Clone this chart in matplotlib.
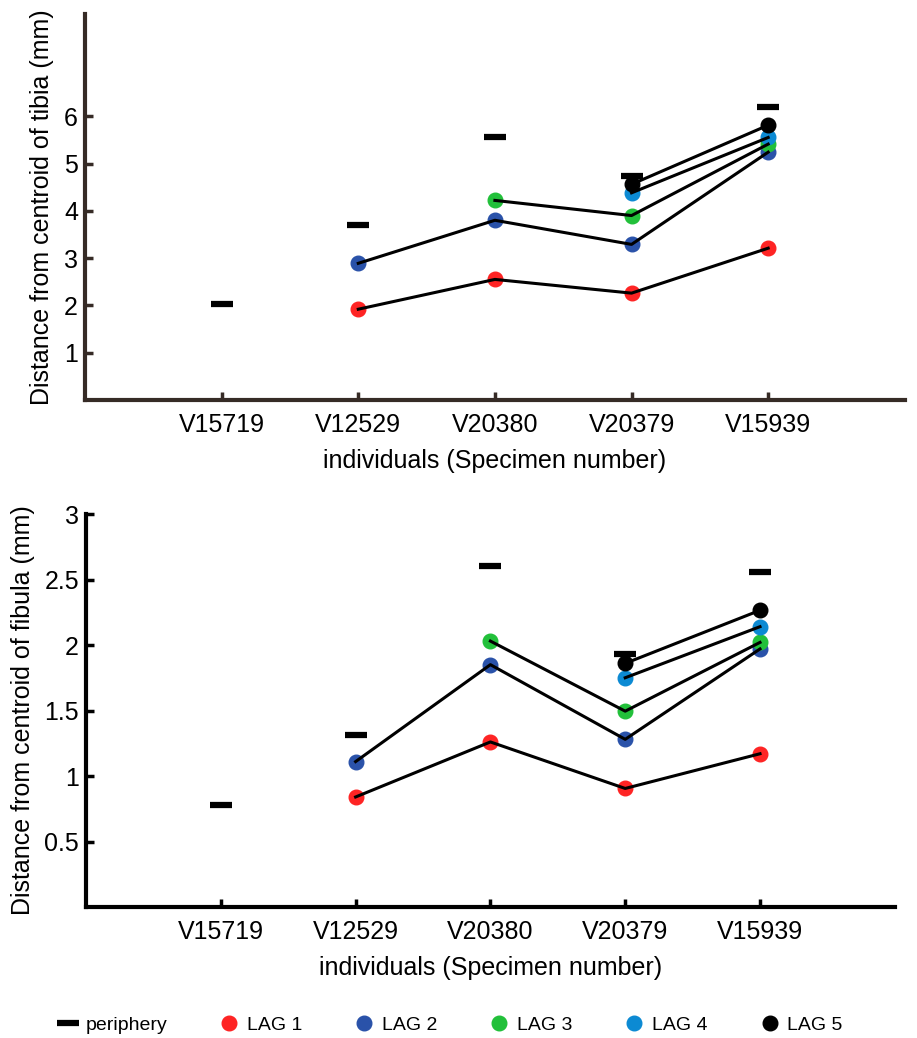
import numpy as np
import matplotlib.pyplot as plt
from matplotlib.lines import Line2D

plt.rcParams['font.family'] = ['Liberation Sans', 'DejaVu Sans']

specimens = ['V15719', 'V12529', 'V20380', 'V20379', 'V15939']
nan = np.nan

# tibia (mm)
tibia_periphery = [2.03, 3.69, 5.55, 4.73, 6.19]
tibia_lag = {
    'LAG 1': [nan, 1.92, 2.55, 2.26, 3.21],
    'LAG 2': [nan, 2.89, 3.80, 3.29, 5.24],
    'LAG 3': [nan, nan, 4.22, 3.90, 5.41],
    'LAG 4': [nan, nan, nan, 4.38, 5.55],
    'LAG 5': [nan, nan, nan, 4.56, 5.81],
}

# fibula (mm)
fibula_periphery = [0.78, 1.31, 2.60, 1.935, 2.56]
fibula_lag = {
    'LAG 1': [nan, 0.84, 1.26, 0.905, 1.17],
    'LAG 2': [nan, 1.11, 1.85, 1.28, 1.97],
    'LAG 3': [nan, nan, 2.03, 1.495, 2.02],
    'LAG 4': [nan, nan, nan, 1.75, 2.14],
    'LAG 5': [nan, nan, nan, 1.86, 2.265],
}

lag_colors = {'LAG 1': '#fe2424', 'LAG 2': '#2a52a9', 'LAG 3': '#22c03a',
              'LAG 4': '#0c8ad3', 'LAG 5': '#000000'}

fig = plt.figure(figsize=(9.17, 10.38), dpi=100)
ax_top = fig.add_axes([0.0927, 0.6146, 0.894, 0.3719])
ax_bot = fig.add_axes([0.0938, 0.1262, 0.882, 0.3786])

font_size = 18
x = np.arange(1, len(specimens) + 1)


def draw_panel(ax, periphery, lags, ylabel, ylim, yticks, yticklabels, spine_color):
    for name, vals in lags.items():
        ax.plot(x, vals, linestyle='none', marker='o', markersize=10.5,
                color=lag_colors[name], zorder=3)
        ax.plot(x, vals, color='black', linewidth=2.2, zorder=4)
    ax.plot(x, periphery, linestyle='none', marker='_', markersize=16,
            markeredgewidth=4.5, color='black', zorder=5)

    ax.set_xlim(0, 6)
    ax.set_ylim(*ylim)
    ax.set_xticks(x)
    ax.set_xticklabels(specimens)
    ax.set_yticks(yticks)
    ax.set_yticklabels(yticklabels)
    ax.tick_params(direction='in', length=6, width=2.5, colors=spine_color,
                   labelcolor='black', labelsize=font_size)
    ax.tick_params(axis='x', pad=9)
    ax.tick_params(axis='y', pad=5)
    for s in ['top', 'right']:
        ax.spines[s].set_visible(False)
    for s in ['left', 'bottom']:
        ax.spines[s].set_linewidth(3)
        ax.spines[s].set_color(spine_color)
    ax.set_ylabel(ylabel, fontsize=font_size, labelpad=7)
    ax.set_xlabel('individuals (Specimen number)', fontsize=font_size, labelpad=9)


draw_panel(ax_top, tibia_periphery, tibia_lag, 'Distance from centroid of tibia (mm)',
           (0, 8.16), [1, 2, 3, 4, 5, 6], ['1', '2', '3', '4', '5', '6'], '#362b26')
draw_panel(ax_bot, fibula_periphery, fibula_lag, 'Distance from centroid of fibula (mm)',
           (0, 3), [0.5, 1, 1.5, 2, 2.5, 3], ['0.5', '1', '1.5', '2', '2.5', '3'], 'black')

handles = [Line2D([], [], linestyle='none', marker='_', markersize=16.5,
                  markeredgewidth=4.5, color='black', label='periphery')]
for name, c in lag_colors.items():
    handles.append(Line2D([], [], linestyle='none', marker='o', markersize=10.5,
                          color=c, label=name))
fig.legend(handles=handles, loc='center', bbox_to_anchor=(0.49, 0.0125), ncol=6,
           frameon=False, fontsize=14, handletextpad=0.3, columnspacing=2.6,
           handlelength=1.2)

plt.savefig('out.png', dpi=100)
